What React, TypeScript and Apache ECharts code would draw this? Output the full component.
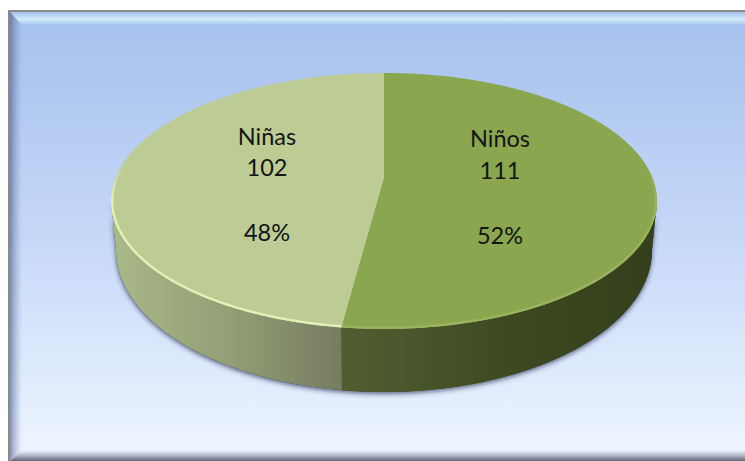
import React, { useEffect, useRef } from "react";
import * as echarts from "echarts";

// Pie values
const categories = ["Niños", "Niñas"];
const values = [111, 102];

const WIDTH = 745;
const HEIGHT = 461;

// Disc geometry: the face ellipse, the foot of the wall, and the off-centre
// point where the slices meet because of the perspective.
const face = { cx: 384, cy: 201, rx: 273, ry: 128 };
const foot = { cx: 384, cy: 250, rx: 268, ry: 142 };
const apex = { x: 384, y: 177 };

const faceColors = ["#8aa64f", "#bccc94"];
const wallStops = [
  ["#525e31", "#3f4a23", "#343e1b"],
  ["#a9b987", "#949f76", "#767c61"],
];
const rimColors = ["165,188,100", "226,242,182"];
const rimOpacity = [0.6, 1];
const labelAnchors = [
  { x: 500, ys: [138, 170, 235] },
  { x: 267, ys: [136, 167, 232] },
];

const total = values.reduce((a, b) => a + b, 0);

// Where the ray leaving the apex at pie angle theta meets the face ellipse.
function rimPoint(theta: number): [number, number] {
  const dx = Math.sin(theta) * face.rx;
  const dy = -Math.cos(theta) * face.ry;
  const oy = apex.y - face.cy;
  const a = (dx * dx) / (face.rx * face.rx) + (dy * dy) / (face.ry * face.ry);
  const b = (2 * dy * oy) / (face.ry * face.ry);
  const c = (oy * oy) / (face.ry * face.ry) - 1;
  const t = (-b + Math.sqrt(b * b - 4 * a * c)) / (2 * a);
  return [apex.x + dx * t, apex.y + dy * t];
}

// Ellipse parameter of a rim point, unwrapped to start at the top (-90deg).
function rimParam(theta: number): number {
  const [x, y] = rimPoint(theta);
  let phi = Math.atan2((y - face.cy) / face.ry, (x - face.cx) / face.rx);
  if (phi < -Math.PI / 2 - 1e-6) phi += Math.PI * 2;
  if (theta > Math.PI && phi < 0) phi += Math.PI * 2;
  return phi;
}

function ellipseArc(e: typeof face, from: number, to: number): number[][] {
  const n = Math.max(2, Math.ceil(Math.abs(to - from) / 0.01));
  const pts: number[][] = [];
  for (let i = 0; i <= n; i++) {
    const p = from + ((to - from) * i) / n;
    pts.push([e.cx + e.rx * Math.cos(p), e.cy + e.ry * Math.sin(p)]);
  }
  return pts;
}

function renderSlice(params: any, api: any) {
  const idx = params.dataIndex;
  const before = values.slice(0, idx).reduce((a, b) => a + b, 0);
  const value = api.value(0) as number;
  const start = (before / total) * Math.PI * 2;
  const end = ((before + value) / total) * Math.PI * 2;

  const children: any[] = [];

  // Soft shadow of the whole wall goes underneath everything.
  if (idx === 0) {
    children.push({
      type: "polygon",
      shape: {
        points: [
          ...ellipseArc(foot, 0, Math.PI),
          ...ellipseArc(face, Math.PI, 0),
        ],
      },
      style: {
        fill: "#3a4428",
        shadowBlur: 5,
        shadowColor: "rgba(45,55,90,0.75)",
        shadowOffsetX: 0,
        shadowOffsetY: 2,
      },
    });
  }

  // Visible part of the wall: the slice's rim clipped to the front half.
  const phiStart = Math.max(rimParam(start), 0);
  const phiEnd = Math.min(rimParam(end === Math.PI * 2 ? end - 1e-9 : end), Math.PI);
  if (phiEnd > phiStart) {
    const stops = wallStops[idx];
    children.push({
      type: "polygon",
      shape: {
        points: [
          ...ellipseArc(face, phiStart, phiEnd),
          ...ellipseArc(foot, phiEnd, phiStart),
        ],
      },
      style: {
        fill: new echarts.graphic.LinearGradient(0, 0, 1, 0, [
          { offset: 0, color: stops[0] },
          { offset: 0.5, color: stops[1] },
          { offset: 1, color: stops[2] },
        ]),
      },
    });
  }

  // Face of the slice, from the apex round its stretch of rim.
  const pts: number[][] = [[apex.x, apex.y]];
  const steps = Math.ceil((end - start) / 0.01);
  for (let i = 0; i <= steps; i++) {
    pts.push(rimPoint(start + ((end - start) * i) / steps));
  }
  children.push({
    type: "polygon",
    shape: { points: pts },
    style: { fill: faceColors[idx] },
  });

  // Lit rim along the front edge, fading out as it climbs the sides.
  const rimFrom = Math.max(rimParam(start), -0.3);
  const rimTo = Math.min(rimParam(end === Math.PI * 2 ? end - 1e-9 : end), Math.PI + 0.3);
  if (rimTo > rimFrom) {
    const inset = { ...face, rx: face.rx - 1.2, ry: face.ry - 1.2 };
    const rgb = rimColors[idx];
    const alpha = rimOpacity[idx];
    children.push({
      type: "polyline",
      shape: { points: ellipseArc(inset, rimFrom, rimTo) },
      style: {
        fill: "none",
        lineWidth: 2.4,
        stroke: new echarts.graphic.LinearGradient(0, 0, 0, 1, [
          { offset: 0, color: `rgba(${rgb},0)` },
          { offset: 0.22, color: `rgba(${rgb},${alpha})` },
          { offset: 1, color: `rgba(${rgb},${alpha})` },
        ]),
      },
    });
  }

  // Category, count and share.
  const anchor = labelAnchors[idx];
  const lines = [
    categories[idx],
    String(value),
    `${Math.round((value / total) * 100)}%`,
  ];
  lines.forEach((text, i) => {
    children.push({
      type: "text",
      style: {
        text,
        x: anchor.x,
        y: anchor.ys[i],
        align: "center",
        verticalAlign: "middle",
        fill: "#141414",
        font: '23.5px Lato, "Open Sans", sans-serif',
      },
    });
  });

  return { type: "group", children };
}

function buildOption(): any {
  const panel = { l: 10, t: 12, r: WIDTH, b: 461 };
  const bevel = { l: 22, t: 25, b: 450 };
  const grad = (x2: number, y2: number, stops: [number, string][]) =>
    new echarts.graphic.LinearGradient(
      0,
      0,
      x2,
      y2,
      stops.map(([offset, color]) => ({ offset, color })),
    );

  return {
    animation: false,
    backgroundColor: "#ffffff",
    graphic: [
      // Outer grey frame
      {
        type: "rect",
        shape: { x: 8, y: 10, width: WIDTH - 8, height: HEIGHT - 10 },
        style: { fill: "#8a8a8a" },
      },
      // Panel fill
      {
        type: "rect",
        shape: {
          x: panel.l,
          y: panel.t,
          width: panel.r - panel.l,
          height: panel.b - panel.t,
        },
        style: {
          fill: grad(0, 1, [
            [0, "#a5c0ec"],
            [0.5, "#c6d8f8"],
            [1, "#eff6ff"],
          ]),
        },
      },
      // Top bevel
      {
        type: "polygon",
        shape: {
          points: [
            [panel.l, panel.t],
            [panel.r, panel.t],
            [panel.r, bevel.t],
            [bevel.l, bevel.t],
          ],
        },
        style: {
          fill: grad(0, 1, [
            [0, "#a2bfe9"],
            [0.55, "#d3ecfc"],
            [1, "#a7c2ee"],
          ]),
        },
      },
      // Left bevel
      {
        type: "polygon",
        shape: {
          points: [
            [panel.l, panel.t],
            [bevel.l, bevel.t],
            [bevel.l, bevel.b],
            [panel.l, panel.b],
          ],
        },
        style: {
          fill: grad(1, 0, [
            [0, "rgba(70,85,125,0.6)"],
            [1, "rgba(120,140,190,0)"],
          ]),
        },
      },
      // Bottom bevel
      {
        type: "polygon",
        shape: {
          points: [
            [bevel.l, bevel.b],
            [panel.r, bevel.b],
            [panel.r, panel.b],
            [panel.l, panel.b],
          ],
        },
        style: {
          fill: grad(0, 1, [
            [0, "rgba(120,130,160,0)"],
            [1, "rgba(90,95,110,0.95)"],
          ]),
        },
      },
    ],
    series: [
      {
        type: "custom",
        coordinateSystem: "none",
        silent: true,
        clip: false,
        z: 5,
        data: values,
        renderItem: renderSlice,
      },
    ],
  };
}

export default function App() {
  const ref = useRef<HTMLDivElement>(null);
  useEffect(() => {
    const chart = echarts.init(ref.current!, undefined, { renderer: "svg" });
    chart.setOption(buildOption());
    return () => chart.dispose();
  }, []);
  return (
    <div
      ref={ref}
      style={{ position: "absolute", left: 0, top: 0, width: WIDTH, height: HEIGHT }}
    />
  );
}
